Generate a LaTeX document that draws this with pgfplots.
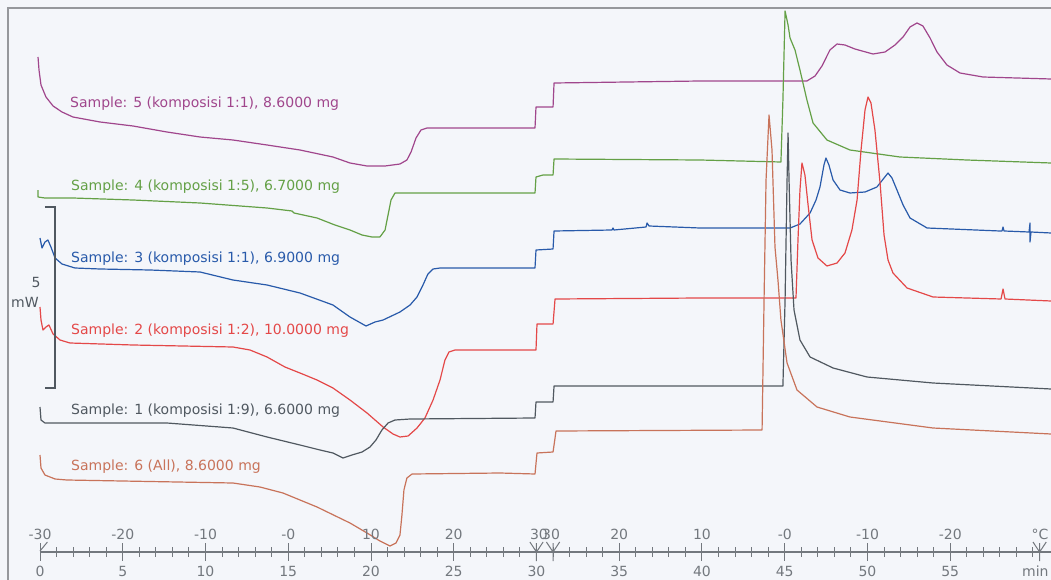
\documentclass[border=0pt]{standalone}
\usepackage{pgfplots}
\pgfplotsset{compat=1.18}
\usepackage{fontspec}
\setmainfont{DejaVu Sans}
\definecolor{s5}{RGB}{160,70,140}
\definecolor{s4}{RGB}{100,160,70}
\definecolor{s3}{RGB}{40,90,170}
\definecolor{s2}{RGB}{228,72,72}
\definecolor{s1}{RGB}{80,88,96}
\definecolor{s6}{RGB}{200,115,90}
\definecolor{bg}{RGB}{244,246,250}
\definecolor{ax}{RGB}{115,120,126}
\definecolor{fr}{RGB}{150,152,156}
\tikzset{lab/.style={font=\fontsize{14}{16}\selectfont}}
\begin{document}
\begin{tikzpicture}
\useasboundingbox (0,0) rectangle (1051pt,580pt);
\clip (0,0) rectangle (1051pt,580pt);
\fill[bg] (0,0) rectangle (1051pt,580pt);
\draw[line width=1.5pt, fr] (8pt,0) -- (8pt,572pt) -- (1051pt,572pt);
\begin{axis}[at={(0pt,0pt)},anchor=south west,scale only axis,
  width=1051pt,height=580pt,xmin=-2.417,xmax=61.088,ymin=0,ymax=580,
  y dir=reverse,hide axis,
  every axis plot/.append style={line width=1.2pt, line join=round}]
% Sample 5
\addplot[s5] coordinates {(-0.12,57) (-0.06,70) (0.06,85) (0.36,97) (0.79,106) (1.33,112) (1.99,117) (3.63,122) (5.62,126) (7.67,132) (9.67,137) (11.66,140) (13.72,145) (15.71,150) (17.70,157) (18.73,163) (19.76,166) (20.85,166) (21.75,164) (22.17,160) (22.42,152) (22.72,138) (23.02,130) (23.38,128) (29.91,128) (29.97,107) (31.00,107) (31.06,83) (39.88,81) (46.34,81) (46.83,76) (47.25,66) (47.73,50) (48.16,44) (48.64,45) (49.24,49) (50.33,54) (51.06,52) (51.66,45) (52.15,37) (52.57,27) (52.99,23) (53.35,26) (53.78,38) (54.20,52) (54.80,65) (55.59,73) (56.98,77) (61.09,79)};
% Sample 4
\addplot[s4] coordinates {(-0.12,190) (-0.12,197) (0.30,198) (1.99,198) (5.62,200) (9.67,203) (13.72,208) (15.23,211) (15.35,213) (16.74,218) (17.82,225) (18.73,230) (19.46,235) (20.06,237) (20.54,237) (20.85,230) (21.03,215) (21.21,200) (21.45,193) (29.91,193) (29.97,177) (30.39,175) (31.00,175) (31.06,159) (39.88,160) (44.77,162) (44.89,100) (45.02,11) (45.20,25) (45.32,38) (45.62,50) (45.92,70) (46.34,100) (46.71,123) (47.55,140) (48.94,150) (51.96,157) (56.01,160) (61.09,163)};
% Sample 3
\addplot[s3] coordinates {(0.00,238) (0.12,248) (0.30,242) (0.48,240) (0.66,247) (0.91,258) (1.33,264) (2.11,268) (3.63,269) (6.65,270) (9.67,272) (11.66,280) (13.72,285) (15.71,293) (17.70,305) (18.73,317) (19.70,326) (20.24,322) (20.73,320) (21.75,312) (22.36,305) (22.78,297) (23.14,285) (23.44,274) (23.75,269) (24.17,268) (29.91,268) (29.97,250) (31.00,249) (31.06,231) (34.56,230) (34.62,228) (34.68,230) (36.62,227) (36.68,223) (36.80,226) (39.88,228) (45.32,228) (45.92,224) (46.53,213) (46.89,200) (47.13,187) (47.37,165) (47.49,158) (47.67,165) (47.92,180) (48.34,190) (48.94,193) (49.85,192) (50.57,187) (51.00,178) (51.24,173) (51.48,178) (51.78,190) (52.15,205) (52.57,218) (53.60,228) (58.01,231) (58.13,231) (58.19,227) (58.25,231) (59.76,232) (59.82,223) (59.82,242) (59.88,232) (61.09,233)};
% Sample 2
\addplot[s2] coordinates {(0.00,307) (0.06,320) (0.18,330) (0.36,327) (0.54,325) (0.79,334) (1.21,340) (1.81,343) (5.62,345) (11.66,347) (12.69,350) (13.72,357) (14.80,367) (15.71,373) (16.74,380) (17.70,388) (18.73,400) (19.76,413) (20.73,427) (21.33,434) (21.75,437) (22.24,436) (22.78,428) (23.26,418) (23.75,400) (24.17,380) (24.47,360) (24.71,352) (25.08,350) (29.97,350) (30.03,324) (31.00,324) (31.12,299) (39.88,298) (45.68,298) (45.80,240) (45.92,190) (46.04,163) (46.22,175) (46.41,205) (46.65,240) (47.01,258) (47.55,266) (48.16,263) (48.64,253) (49.06,230) (49.37,200) (49.61,150) (49.85,110) (50.03,97) (50.21,103) (50.45,130) (50.76,183) (51.00,235) (51.24,260) (51.54,273) (52.39,288) (53.96,297) (58.07,299) (58.19,289) (58.31,299) (61.09,301)};
% Sample 1
\addplot[s1] coordinates {(0.00,407) (0.06,420) (0.30,423) (1.63,423) (7.67,423) (11.66,428) (13.72,437) (15.71,445) (16.92,450) (17.70,453) (18.31,458) (18.85,455) (19.46,452) (19.94,447) (20.30,440) (20.66,430) (21.03,423) (21.45,420) (22.36,419) (29.91,418) (29.97,402) (31.00,402) (31.06,386) (39.88,386) (44.89,386) (45.02,300) (45.14,180) (45.20,133) (45.26,180) (45.38,260) (45.56,310) (45.92,340) (46.53,357) (47.92,368) (49.97,377) (53.96,383) (61.09,389)};
% Sample 6
\addplot[s6] coordinates {(0.00,455) (0.06,468) (0.30,475) (0.91,479) (1.63,480) (11.66,483) (13.29,487) (14.68,493) (16.74,507) (18.73,523) (19.76,533) (20.54,541) (21.15,546) (21.51,543) (21.75,535) (21.87,515) (21.99,490) (22.17,478) (22.48,474) (27.79,473) (29.91,474) (30.03,453) (31.00,452) (31.18,431) (43.63,430) (43.75,300) (43.87,180) (44.05,115) (44.23,150) (44.41,247) (44.59,280) (44.77,320) (45.14,363) (45.74,390) (46.95,407) (48.94,417) (53.96,428) (61.09,434)};
% sample labels
\node[lab,text=s5,anchor=west,inner sep=0pt] at (axis cs:1.81,104) {Sample: 5 (komposisi 1:1), 8.6000 mg};
\node[lab,text=s4,anchor=west,inner sep=0pt] at (axis cs:1.87,187) {Sample: 4 (komposisi 1:5), 6.7000 mg};
\node[lab,text=s3,anchor=west,inner sep=0pt] at (axis cs:1.87,259) {Sample: 3 (komposisi 1:1), 6.9000 mg};
\node[lab,text=s2,anchor=west,inner sep=0pt] at (axis cs:1.87,331) {Sample: 2 (komposisi 1:2), 10.0000 mg};
\node[lab,text=s1,anchor=west,inner sep=0pt] at (axis cs:1.87,411) {Sample: 1 (komposisi 1:9), 6.6000 mg};
\node[lab,text=s6,anchor=west,inner sep=0pt] at (axis cs:1.87,467) {Sample: 6 (All), 8.6000 mg};
% 5 mW scale bar
\draw[s1,line width=1.2pt] (axis cs:0.30,207) -- (axis cs:0.91,207) -- (axis cs:0.91,388) -- (axis cs:0.30,388);
\node[lab,text=s1,inner sep=0pt] at (axis cs:-0.24,282) {5};
\node[lab,text=s1,inner sep=0pt] at (axis cs:-0.91,302) {mW};
% ruler
\draw[ax,line width=1.2pt] (axis cs:0,552) -- (axis cs:61.1,552);
\pgfplotsinvokeforeach{0,...,60}{\draw[ax,line width=1pt] (axis cs:#1,547) -- (axis cs:#1,557);}
\pgfplotsinvokeforeach{0,5,...,55}{\draw[ax,line width=1pt] (axis cs:#1,543) -- (axis cs:#1,561);}
\draw[ax,line width=1pt] (axis cs:0,551) -- (axis cs:0.45,542);
\pgfplotsinvokeforeach{30,31,60.4}{\draw[ax,line width=1pt] (axis cs:#1-0.4,542) -- (axis cs:#1,552) -- (axis cs:#1+0.4,542) (axis cs:#1,543) -- (axis cs:#1,561);}
\pgfplotsinvokeforeach{0,5,...,55}{\node[lab,text=ax,inner sep=0pt] at (axis cs:#1,571) {#1};}
\node[lab,text=ax,anchor=east,inner sep=0pt] at (axis cs:60.95,571) {min};
\node[lab,text=ax] at (axis cs:0,534) {-30};
\node[lab,text=ax] at (axis cs:5,534) {-20};
\node[lab,text=ax] at (axis cs:10,534) {-10};
\node[lab,text=ax] at (axis cs:15,534) {-0};
\node[lab,text=ax] at (axis cs:20,534) {10};
\node[lab,text=ax] at (axis cs:25,534) {20};
\node[lab,text=ax] at (axis cs:30.15,534) {30};
\node[lab,text=ax] at (axis cs:30.88,534) {30};
\node[lab,text=ax] at (axis cs:35,534) {20};
\node[lab,text=ax] at (axis cs:40,534) {10};
\node[lab,text=ax] at (axis cs:45,534) {-0};
\node[lab,text=ax] at (axis cs:50,534) {-10};
\node[lab,text=ax] at (axis cs:55,534) {-20};
\node[lab,text=ax,anchor=east,inner sep=0pt] at (axis cs:60.95,534) {°C};
\end{axis}
\end{tikzpicture}
\end{document}
